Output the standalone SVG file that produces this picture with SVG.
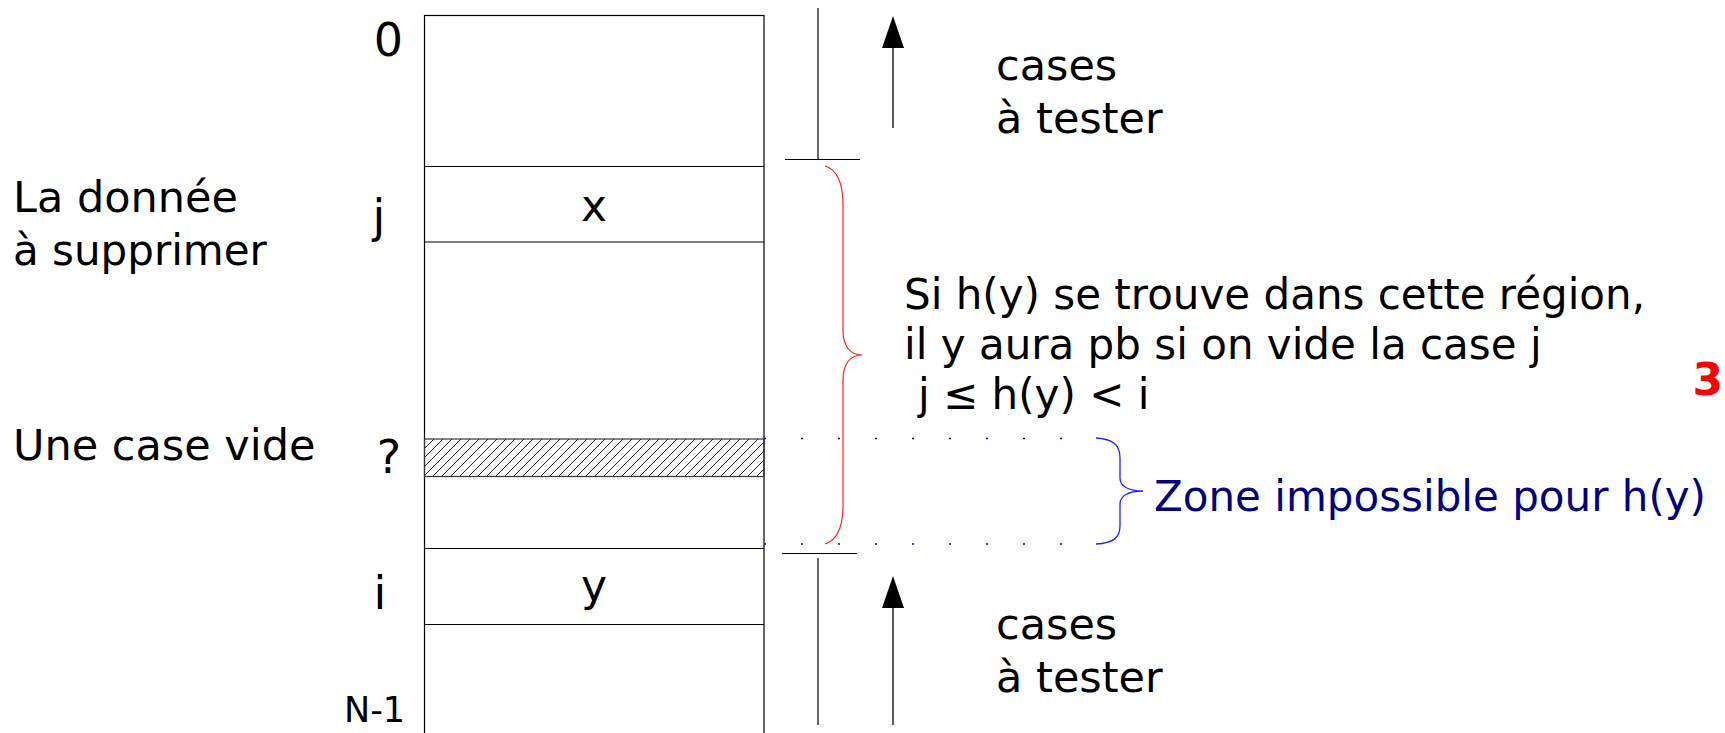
<svg xmlns="http://www.w3.org/2000/svg" width="1725" height="733" viewBox="0 0 1725 733">
  <style>
    text { font-family: "DejaVu Sans", "Liberation Sans", sans-serif; fill: #000; }
    .t42 { font-size: 42px; }
    .t43 { font-size: 43px; }
    .t44 { font-size: 44px; }
    .idx { font-size: 46px; text-anchor: middle; }
    .cell { fill: #fff; stroke: #000; stroke-width: 1.2; }
    .ln { stroke: #000; stroke-width: 1.2; fill: none; }
    .shaft { stroke: #000; stroke-width: 1.3; fill: none; }
    .dots { stroke: #0000cc; stroke-width: 1.5; stroke-dasharray: 2 35; fill: none; }
  </style>
  <defs>
    <pattern id="hatch" patternUnits="userSpaceOnUse" width="9" height="9">
      <path d="M-1,1 L1,-1 M0,9 L9,0 M8,10 L10,8" stroke="#222" stroke-width="1"/>
    </pattern>
    <marker id="head" markerUnits="userSpaceOnUse" markerWidth="33" markerHeight="23" refX="0" refY="11" orient="auto">
      <path d="M0,0 L32,11 L0,22 z" fill="#000"/>
    </marker>
  </defs>

  <rect width="1725" height="733" fill="#fff"/>

  <g id="array">
    <rect class="cell" x="424.5" y="15.5" width="339.5" height="730"/>
    <line class="ln" x1="424.5" y1="166.5" x2="764" y2="166.5"/>
    <line class="ln" x1="424.5" y1="242" x2="764" y2="242"/>
    <line class="ln" x1="424.5" y1="548.5" x2="764" y2="548.5"/>
    <line class="ln" x1="424.5" y1="624.5" x2="764" y2="624.5"/>
  </g>
  <g id="cell-j">
    <text class="t44" x="594" y="221" text-anchor="middle">x</text>
  </g>
  <g id="cell-empty">
    <rect x="424.5" y="439" width="339.5" height="37.5" fill="url(#hatch)" stroke="#333" stroke-width="1.2"/>
  </g>
  <g id="cell-i">
    <text class="t44" x="594" y="601" text-anchor="middle">y</text>
  </g>

  <g id="indices">
    <text class="idx" x="388.5" y="56">0</text>
    <text class="idx" x="379" y="232">j</text>
    <text class="idx" x="389" y="473">?</text>
    <text class="idx" x="380" y="609">i</text>
    <text x="344" y="722" style="font-size:35px">N-1</text>
  </g>

  <g id="left-labels">
    <text class="t43" x="13" y="212">La donnée</text>
    <text class="t42" x="13" y="265">à supprimer</text>
    <text class="t43" x="13" y="460">Une case vide</text>
  </g>

  <g id="top-range">
    <text class="t43" x="996" y="80">cases</text>
    <text class="t43" x="996" y="133">à tester</text>
  </g>
  <g id="bottom-range">
    <text class="t43" x="996" y="639">cases</text>
    <text class="t43" x="996" y="692">à tester</text>
  </g>

  <g id="region-note">
    <text class="t42" x="904" y="309">Si h(y) se trouve dans cette région,</text>
    <text class="t42" x="904" y="359">il y aura pb si on vide la case j</text>
    <text class="t42" x="918" y="409">j ≤ h(y) &lt; i</text>
  </g>

  <g id="zone-note">
    <text class="t42" x="1154" y="511" style="fill:#000080">Zone impossible pour h(y)</text>
  </g>

  <g id="page-number">
    <text x="1723" y="395" text-anchor="end" style="font-size:44px;font-weight:bold;fill:#ff0000">3</text>
  </g>

  <g id="connectors">
    <line class="ln" x1="818" y1="8" x2="818" y2="159"/>
    <line class="ln" x1="785" y1="159.5" x2="860" y2="159.5"/>
    <line class="shaft" x1="893" y1="128" x2="893" y2="48" marker-end="url(#head)"/>

    <line class="ln" x1="782" y1="553.5" x2="857" y2="553.5"/>
    <line class="ln" x1="818" y1="558" x2="818" y2="725"/>
    <line class="shaft" x1="893" y1="725" x2="893" y2="608" marker-end="url(#head)"/>

    <path d="M825,166 C838,170 843,185 843,205 L843,330 C843,346 850,355 862,355 C850,355 843,364 843,380 L843,505 C843,525 838,540 825,544" fill="none" stroke="#ff2020" stroke-width="1.2"/>

    <line class="dots" x1="764" y1="438.5" x2="1064" y2="438.5"/>
    <line class="dots" x1="764" y1="544" x2="1064" y2="544"/>
    <path d="M1096,438 C1113,439 1120,445 1120,458 L1120,478 C1120,486 1128,491 1143,491 C1128,491 1120,496 1120,504 L1120,526 C1120,538 1113,543 1096,544" fill="none" stroke="#2222ff" stroke-width="1.3"/>
  </g>
</svg>
